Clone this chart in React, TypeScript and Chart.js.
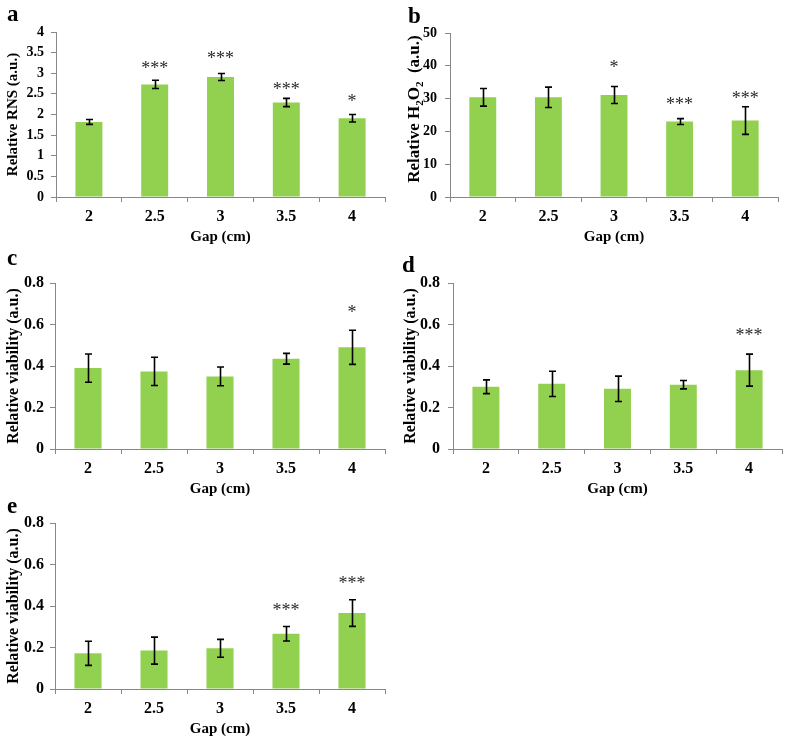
import React, { useEffect, useRef } from "react";
import { Chart, registerables } from "chart.js";

Chart.register(...registerables);

// ---------- data ----------
const categories = ["2", "2.5", "3", "3.5", "4"];

const rnsValues = [1.82, 2.73, 2.91, 2.29, 1.91];
const rnsErrors = [0.06, 0.1, 0.085, 0.1, 0.09];
const rnsStars = ["", "***", "***", "***", "*"];
const rnsStarLevels = [0, 3.18, 3.44, 2.69, 2.4];

const h2o2Values = [30.4, 30.4, 31.1, 23.0, 23.3];
const h2o2Errors = [2.7, 3.1, 2.6, 0.9, 4.2];
const h2o2Stars = ["", "", "*", "***", "***"];
const h2o2StarLevels = [0, 0, 40.5, 29.0, 30.8];

const viabilityCValues = [0.39, 0.374, 0.35, 0.435, 0.49];
const viabilityCErrors = [0.068, 0.068, 0.045, 0.026, 0.082];
const viabilityCStars = ["", "", "", "", "*"];
const viabilityCStarLevels = [0, 0, 0, 0, 0.67];

const viabilityDValues = [0.3, 0.314, 0.29, 0.31, 0.38];
const viabilityDErrors = [0.033, 0.061, 0.061, 0.02, 0.077];
const viabilityDStars = ["", "", "", "", "***"];
const viabilityDStarLevels = [0, 0, 0, 0, 0.56];

const viabilityEValues = [0.172, 0.185, 0.196, 0.266, 0.366];
const viabilityEErrors = [0.058, 0.065, 0.043, 0.035, 0.064];
const viabilityEStars = ["", "", "", "***", "***"];
const viabilityEStarLevels = [0, 0, 0, 0.395, 0.525];

const xTitle = "Gap (cm)";

// ---------- styling ----------
const FONT = "'Liberation Serif', 'Times New Roman', serif";
const GREEN = "#92D050";
const GRAY = "#878787";

type Panel = {
  letter: string;
  left: number;
  top: number;
  width: number;
  height: number;
  area: { l: number; t: number; r: number; b: number };
  letterPos: { x: number; y: number };
  yMax: number;
  yStep: number;
  yTitle: string;
  subscriptTitle?: boolean;
  yTitleSize: number;
  yTitlePad: number;
  yTickSize: number;
  yTickPad: number;
  values: number[];
  errors: number[];
  stars: string[];
  starLevels: number[];
};

const panels: Panel[] = [
  {
    letter: "a", left: 0, top: 0, width: 395, height: 247,
    area: { l: 56, t: 32, r: 385, b: 197 }, letterPos: { x: 7, y: 2 },
    yMax: 4, yStep: 0.5, yTitle: "Relative RNS (a.u.)", yTitleSize: 15, yTitlePad: 4,
    yTickSize: 14, yTickPad: 7,
    values: rnsValues, errors: rnsErrors, stars: rnsStars, starLevels: rnsStarLevels,
  },
  {
    letter: "b", left: 395, top: 0, width: 392, height: 247,
    area: { l: 55, t: 33, r: 383, b: 197 }, letterPos: { x: 13, y: 4 },
    yMax: 50, yStep: 10, yTitle: "Relative H2O2 (a.u.)", subscriptTitle: true, yTitleSize: 17, yTitlePad: 4,
    yTickSize: 14, yTickPad: 8,
    values: h2o2Values, errors: h2o2Errors, stars: h2o2Stars, starLevels: h2o2StarLevels,
  },
  {
    letter: "c", left: 0, top: 240, width: 395, height: 259,
    area: { l: 55, t: 43, r: 385, b: 209 }, letterPos: { x: 7, y: 6 },
    yMax: 0.8, yStep: 0.2, yTitle: "Relative viability (a.u.)", yTitleSize: 16, yTitlePad: 4,
    yTickSize: 16, yTickPad: 6,
    values: viabilityCValues, errors: viabilityCErrors, stars: viabilityCStars, starLevels: viabilityCStarLevels,
  },
  {
    letter: "d", left: 395, top: 240, width: 392, height: 259,
    area: { l: 58, t: 43, r: 387, b: 209 }, letterPos: { x: 7, y: 13 },
    yMax: 0.8, yStep: 0.2, yTitle: "Relative viability (a.u.)", yTitleSize: 16, yTitlePad: 6,
    yTickSize: 16, yTickPad: 8,
    values: viabilityDValues, errors: viabilityDErrors, stars: viabilityDStars, starLevels: viabilityDStarLevels,
  },
  {
    letter: "e", left: 0, top: 480, width: 395, height: 259,
    area: { l: 55, t: 43, r: 385, b: 209 }, letterPos: { x: 7, y: 14 },
    yMax: 0.8, yStep: 0.2, yTitle: "Relative viability (a.u.)", yTitleSize: 16, yTitlePad: 4,
    yTickSize: 16, yTickPad: 6,
    values: viabilityEValues, errors: viabilityEErrors, stars: viabilityEStars, starLevels: viabilityEStarLevels,
  },
];

// ---------- plugins ----------
const errorBarPlugin = {
  id: "errorBars",
  afterDatasetsDraw(chart: any, _args: any, opts: any) {
    const { ctx } = chart;
    const y = chart.scales.y;
    const meta = chart.getDatasetMeta(0);
    const values: number[] = chart.data.datasets[0].data;
    ctx.save();
    ctx.strokeStyle = "#000";
    ctx.lineWidth = 1.6;
    meta.data.forEach((bar: any, i: number) => {
      const v = values[i];
      const e = opts.errors[i];
      const x = Math.round(bar.x) + 0.5;
      const yTop = y.getPixelForValue(v + e);
      const yBot = y.getPixelForValue(v - e);
      ctx.beginPath();
      ctx.moveTo(x, yTop);
      ctx.lineTo(x, yBot);
      ctx.moveTo(x - 3.5, yTop);
      ctx.lineTo(x + 3.5, yTop);
      ctx.moveTo(x - 3.5, yBot);
      ctx.lineTo(x + 3.5, yBot);
      ctx.stroke();
      const s = opts.stars[i];
      if (s) {
        ctx.font = `18px ${FONT}`;
        ctx.textAlign = "center";
        ctx.textBaseline = "alphabetic";
        ctx.fillStyle = "#2a2a2a";
        ctx.fillText(s, bar.x, y.getPixelForValue(opts.starLevels[i]) + 8.5);
      }
    });
    ctx.restore();
  },
};

const subscriptTitlePlugin = {
  id: "subTitle",
  afterDraw(chart: any, _args: any, opts: any) {
    if (!opts || !opts.display) return;
    const { ctx, chartArea } = chart;
    const size = opts.size;
    const parts = [
      { t: "Relative H", sub: false },
      { t: "2", sub: true },
      { t: "O", sub: false },
      { t: "2", sub: true },
      { t: "  (a.u.)", sub: false },
    ];
    const mainFont = `bold ${size}px ${FONT}`;
    const subFont = `bold ${Math.round(size * 0.65)}px ${FONT}`;
    ctx.save();
    let total = 0;
    const widths = parts.map((p) => {
      ctx.font = p.sub ? subFont : mainFont;
      const w = ctx.measureText(p.t).width;
      total += w;
      return w;
    });
    const cy = (chartArea.top + chartArea.bottom) / 2 - 6;
    ctx.translate(opts.x, cy);
    ctx.rotate(-Math.PI / 2);
    ctx.fillStyle = "#000";
    ctx.textBaseline = "alphabetic";
    ctx.textAlign = "left";
    let cx = -total / 2;
    parts.forEach((p, i) => {
      ctx.font = p.sub ? subFont : mainFont;
      ctx.fillText(p.t, cx, p.sub ? size * 0.22 : 0);
      cx += widths[i];
    });
    ctx.restore();
  },
};

const formatTick = (v: any) => String(Number(Number(v).toFixed(3)));

// ---------- components ----------
function PanelChart({ p }: { p: Panel }) {
  const ref = useRef<HTMLCanvasElement>(null);

  useEffect(() => {
    if (!ref.current) return;
    const axisH = p.height - p.area.b;
    const chart = new Chart(ref.current, {
      type: "bar",
      data: {
        labels: categories,
        datasets: [
          {
            data: p.values,
            backgroundColor: GREEN,
            borderWidth: 0,
            barPercentage: 0.41,
            categoryPercentage: 1,
          },
        ],
      },
      plugins: [errorBarPlugin, subscriptTitlePlugin],
      options: {
        animation: false,
        responsive: false,
        devicePixelRatio: 1,
        layout: {
          padding: { left: 0, top: p.area.t, right: p.width - p.area.r, bottom: 0 },
        },
        plugins: {
          legend: { display: false },
          tooltip: { enabled: false },
          errorBars: { errors: p.errors, stars: p.stars, starLevels: p.starLevels },
          subTitle: { display: !!p.subscriptTitle, size: p.yTitleSize, x: 24 },
        } as any,
        scales: {
          x: {
            afterFit: (scale: any) => {
              scale.height = axisH;
            },
            grid: {
              display: true,
              drawOnChartArea: false,
              drawTicks: true,
              tickLength: 5,
              color: GRAY,
              offset: true,
            },
            border: { display: true, color: GRAY, width: 1 },
            ticks: {
              color: "#000",
              font: { family: FONT, size: 16, weight: "bold" },
              padding: 5,
              maxRotation: 0,
              autoSkip: false,
            },
            title: {
              display: true,
              text: xTitle,
              color: "#000",
              font: { family: FONT, size: 15, weight: "bold" },
              padding: { top: 0, bottom: 1 },
            },
          },
          y: {
            min: 0,
            max: p.yMax,
            afterFit: (scale: any) => {
              scale.width = p.area.l;
            },
            grid: {
              display: true,
              drawOnChartArea: false,
              drawTicks: true,
              tickLength: 5,
              color: GRAY,
            },
            border: { display: true, color: GRAY, width: 1 },
            ticks: {
              stepSize: p.yStep,
              color: "#000",
              font: { family: FONT, size: p.yTickSize, weight: "bold" },
              padding: p.yTickPad,
              callback: formatTick,
            },
            title: {
              display: !p.subscriptTitle,
              text: p.yTitle,
              color: "#000",
              font: { family: FONT, size: p.yTitleSize, weight: "bold" },
              padding: { top: p.yTitlePad, bottom: 0 },
            },
          },
        },
      } as any,
    });
    return () => chart.destroy();
  }, [p]);

  return (
    <div
      style={{
        position: "absolute",
        left: p.left,
        top: p.top,
        width: p.width,
        height: p.height,
      }}
    >
      <canvas
        ref={ref}
        width={p.width}
        height={p.height}
        style={{ width: p.width, height: p.height, display: "block" }}
      />
      <div
        style={{
          position: "absolute",
          left: p.letterPos.x,
          top: p.letterPos.y,
          font: `bold 23px ${FONT}`,
          lineHeight: "23px",
          color: "#000",
        }}
      >
        {p.letter}
      </div>
    </div>
  );
}

export default function App() {
  return (
    <div
      style={{
        position: "absolute",
        left: 0,
        top: 0,
        width: 787,
        height: 748,
        background: "#fff",
      }}
    >
      {panels.map((p) => (
        <PanelChart key={p.letter} p={p} />
      ))}
    </div>
  );
}
